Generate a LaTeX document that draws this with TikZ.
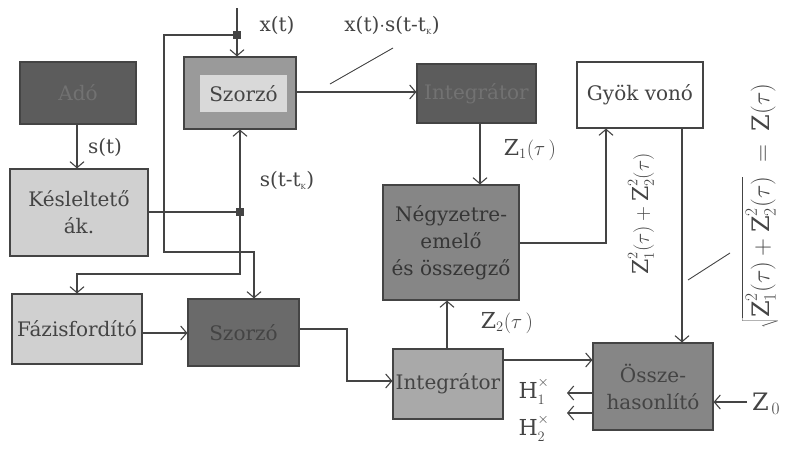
\documentclass[tikz,border=0pt]{standalone}
\usepackage{fontspec}
\setmainfont{DejaVu Serif}
\usetikzlibrary{arrows.meta}
\definecolor{ink}{HTML}{444444}
\definecolor{dark}{HTML}{5C5C5C}
\definecolor{darktext}{HTML}{727272}
\definecolor{middark}{HTML}{6A6A6A}
\definecolor{mid}{HTML}{868686}
\definecolor{midlight}{HTML}{A9A9A9}
\definecolor{outer}{HTML}{9A9A9A}
\definecolor{inner}{HTML}{D9D9D9}
\definecolor{light}{HTML}{D0D0D0}
\tikzset{
  blk/.style={draw=ink, line width=1.2pt, inner sep=0pt, align=center,
    font=\fontsize{20}{27}\selectfont},
  wire/.style={draw=ink, line width=1.2pt},
  flow/.style={wire, -{Straight Barb[length=6pt,width=14pt,line width=1.1pt]}},
  lbl/.style={text=ink, font=\fontsize{20}{22}\selectfont, inner sep=0pt},
  mlbl/.style={text=ink, font=\fontsize{22}{24}\selectfont, inner sep=0pt},
  junction/.style={fill=ink, draw=ink, minimum size=7pt, inner sep=0pt},
}
\begin{document}
\begin{tikzpicture}[x=1pt,y=-1pt]
\useasboundingbox (0,0) rectangle (788,448);

% blocks
\node[blk, fill=dark, text=darktext, minimum width=116pt, minimum height=62pt] (ado) at (78,93) {Adó};
\node[blk, fill=outer, minimum width=112pt, minimum height=72pt] (szt) at (240,93) {};
\node[fill=inner, minimum width=87pt, minimum height=37pt, inner sep=0pt, text=ink,
  font=\fontsize{20}{22}\selectfont] (sztin) at (243.5,93.5) {Szorzó};
\node[blk, fill=light, text=ink, minimum width=138pt, minimum height=87pt] (kes) at (79,212.5) {Késleltető\\ák.};
\node[blk, fill=light, text=ink, minimum width=130pt, minimum height=70pt] (faz) at (77,329) {Fázisfordító};
\node[blk, fill=middark, text=ink, minimum width=111pt, minimum height=67pt] (szb) at (243.5,332.5) {Szorzó};
\node[blk, fill=dark, text=darktext, minimum width=119pt, minimum height=59pt] (intt) at (476.5,93.5) {Integrátor};
\node[blk, fill=white, text=ink, minimum width=126pt, minimum height=66pt] (gyok) at (640,95) {Gyök vonó};
\node[blk, fill=mid, text=ink!80!black, minimum width=136pt, minimum height=115pt] (negy) at (451,242.5) {Négyzetre-\\emelő\\és összegző};
\node[blk, fill=midlight, text=ink, minimum width=110pt, minimum height=70pt] (intb) at (448,384) {Integrátor};
\node[blk, fill=mid, text=ink, minimum width=120pt, minimum height=87pt] (ossz) at (653,386.5) {Össze-\\hasonlító};

% junctions and free ends
\coordinate (xin) at (237,8);
\node[junction] (j1) at (237,35) {};
\node[junction] (j2) at (240,212) {};
\coordinate (h1) at (567,393);
\coordinate (h2) at (567,413);
\coordinate (z0) at (747,402);

% x(t) path
\draw[flow] (xin) -- (j1) -- (j1 |- szt.north);
\draw[flow] (j1) -- (164,35) -- (164,252) -- (254,252) -- (254,0 |- szb.north);

% reference signal path
\draw[flow] (ado.south -| 77,0) -- (kes.north -| 77,0);
\draw[wire] (kes.east |- j2) -- (j2);
\draw[flow] (j2) -- (j2 |- szt.south);
\draw[flow] (j2) -- (240,274) -- (77,274) -- (77,0 |- faz.north);
\draw[flow] (faz.east |- 0,333) -- (szb.west |- 0,333);

% products to integrators
\draw[flow] (szt.east |- 0,92) -- (intt.west |- 0,92);
\draw[flow] (szb.east |- 0,329) -- (347,329) -- (347,381) -- (intb.west |- 0,381);

% squaring, root, comparison
\draw[flow] (intt.south -| 480,0) -- (negy.north -| 480,0);
\draw[flow] (intb.north -| 447,0) -- (negy.south -| 447,0);
\draw[flow] (negy.east |- 0,243) -- (606,243) -- (606,0 |- gyok.south);
\draw[flow] (intb.east |- 0,360) -- (ossz.west |- 0,360);
\draw[flow] (gyok.south -| 682,0) -- (ossz.north -| 682,0);
\draw[flow] (ossz.west |- h1) -- (h1);
\draw[flow] (ossz.west |- h2) -- (h2);
\draw[flow] (z0) -- (ossz.east |- z0);

% labels
\node[lbl] (lx) at (277,25) {x(t)};
\node[lbl] (ls) at (105,147) {s(t)};
\node[lbl] (lsd) at (287,180) {s(t-t\textsubscript{\scriptsize K})};
\node[lbl] (lxs) at (392,25) {x(t)$\cdot$s(t-t\textsubscript{\scriptsize K})};
\draw[wire, line width=0.9pt] (330,84) -- (393,48);
\node[mlbl] (lz1) at (530,150) {$\mathrm{Z}_1(\tau\,)$};
\node[mlbl] (lz2) at (507,323) {$\mathrm{Z}_2(\tau\,)$};
\node[mlbl, rotate=90] (lsum) at (641,214) {$\mathrm{Z}^2_1(\tau)+\mathrm{Z}^2_2(\tau)$};
\node[mlbl, font=\fontsize{24}{26}\selectfont, rotate=90] (lroot) at (760,206) {$\sqrt{\mathrm{Z}^2_1(\tau)+\mathrm{Z}^2_2(\tau)}\;=\;\mathrm{Z}(\tau)$};
\draw[wire, line width=0.9pt] (688,280) -- (730,253);
\node[mlbl] (lh1) at (534,391) {$\mathrm{H}^{\times}_1$};
\node[mlbl] (lh2) at (534,428) {$\mathrm{H}^{\times}_2$};
\node[mlbl, font=\fontsize{24}{26}\selectfont] (lz0) at (766,404) {$\mathrm{Z}_{\,0}$};
\end{tikzpicture}
\end{document}
